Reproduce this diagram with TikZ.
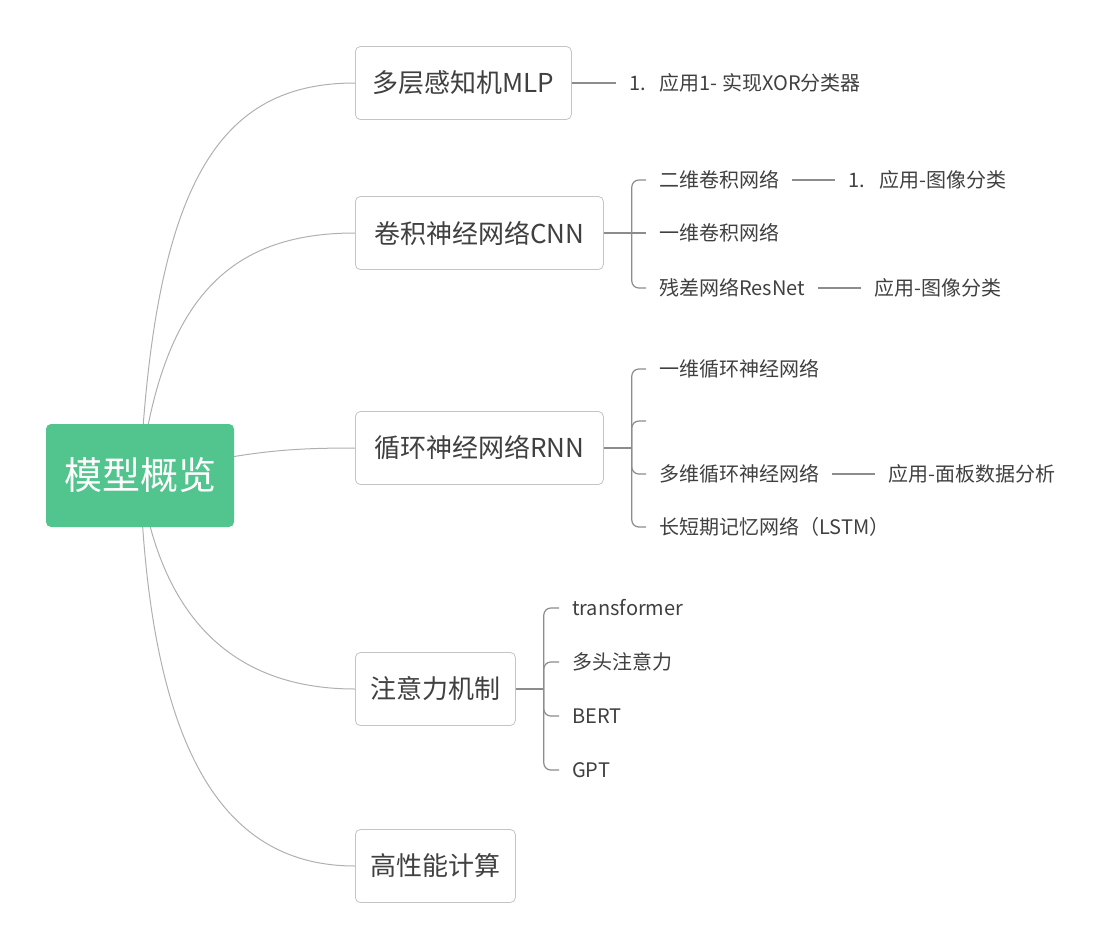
\documentclass[tikz,border=0pt]{standalone}
\usepackage{fontspec}
\setmainfont{Noto Sans CJK SC}
\usetikzlibrary{positioning,backgrounds}
\definecolor{rootgreen}{HTML}{52C48D}
\definecolor{txtgray}{HTML}{404040}
\definecolor{boxgray}{HTML}{C4C4C4}
\definecolor{curvegray}{HTML}{B0B0B0}
\definecolor{branchgray}{HTML}{8C8C8C}
\tikzstyle{root} = [rectangle, rounded corners=5pt, fill=rootgreen,
    text=white, minimum width=188pt, minimum height=103pt,
    font=\fontsize{38}{40}\selectfont]
\tikzstyle{topic} = [draw=boxgray, line width=0.8pt, rectangle,
    rounded corners=5pt, fill=white, text=txtgray, minimum height=73pt,
    anchor=west, font=\fontsize{26}{28}\selectfont]
\tikzstyle{leaf} = [inner xsep=13pt, inner ysep=2pt, text=txtgray,
    font=\fontsize{20}{22}\selectfont]
\tikzstyle{curve} = [draw=curvegray, line width=1pt]
\tikzstyle{branch} = [draw=branchgray, line width=1.2pt, rounded corners=7pt]

\begin{document}
\begin{tikzpicture}[x=1pt, y=-1pt, node distance=43pt]
    \useasboundingbox (0,0) rectangle (1113,948);
    % We start by placing the root and the main topics
    \node [root] (root) at (140,475.5) {模型概览};
    \node [topic, minimum width=216pt] (mlp) at (355,83) {多层感知机MLP};
    \node [topic, minimum width=248pt] (cnn) at (355,233) {卷积神经网络CNN};
    \node [topic, minimum width=248pt] (rnn) at (355,448) {循环神经网络RNN};
    \node [topic, minimum width=160pt] (attn) at (355,689) {注意力机制};
    \node [topic, minimum width=160pt] (hpc) at (355,866) {高性能计算};

    % The curves leave the root from behind it
    \begin{pgfonlayer}{background}
    \draw [curve] (root.center) .. controls (155,180) and (220,83) .. (mlp.west);
    \draw [curve] (root.center) .. controls (162,300) and (228,233) .. (cnn.west);
    \draw [curve] (root.center) .. controls (245,452) and (280,448) .. (rnn.west);
    \draw [curve] (root.center) .. controls (160,620) and (235,689) .. (attn.west);
    \draw [curve] (root.center) .. controls (150,760) and (228,866) .. (hpc.west);
    \end{pgfonlayer}

    % MLP
    \node [leaf, right=44pt of mlp] (xor) {1.\hspace{14pt}应用1- 实现XOR分类器};
    \draw [branch] (mlp) -- (xor);

    % CNN: the leaves hang on a bracket
    \node [leaf, anchor=west] (conv2) at (646,180) {二维卷积网络};
    \node [leaf, anchor=west] (conv1) at (646,233) {一维卷积网络};
    \node [leaf, anchor=west] (resnet) at (646,288) {残差网络ResNet};
    \node [leaf, right=of conv2] (img1) {1.\hspace{14pt}应用-图像分类};
    \node [leaf, right=of resnet] (img2) {应用-图像分类};
    \draw [branch] (cnn.east) -- ++(28,0) coordinate (cnnb) -- (conv1.west);
    \draw [branch] (cnnb) |- (conv2.west);
    \draw [branch] (cnnb) |- (resnet.west);
    \draw [branch] (conv2) -- (img1);
    \draw [branch] (resnet) -- (img2);

    % RNN (the second leaf is left empty)
    \node [leaf, anchor=west] (rnn1) at (646,369) {一维循环神经网络};
    \coordinate (rnn2) at (646,421);
    \node [leaf, anchor=west] (rnnm) at (646,474) {多维循环神经网络};
    \node [leaf, anchor=west] (lstm) at (646,527) {长短期记忆网络（LSTM）};
    \node [leaf, right=of rnnm] (panel) {应用-面板数据分析};
    \draw [branch] (rnn.east) -- ++(28,0) coordinate (rnnb);
    \foreach \c in {rnn1,rnnm,lstm}
        \draw [branch] (rnnb) |- (\c.west);
    \draw [branch] (rnnb) |- (rnn2);
    \draw [branch] (rnnm) -- (panel);

    % Attention
    \node [leaf, anchor=west] (trans) at (559,608) {transformer};
    \node [leaf, anchor=west] (mhead) at (559,662) {多头注意力};
    \node [leaf, anchor=west] (bert) at (559,716) {BERT};
    \node [leaf, anchor=west] (gpt) at (559,770) {GPT};
    \draw [branch] (attn.east) -- ++(28,0) coordinate (attnb);
    \foreach \c in {trans,mhead,bert,gpt}
        \draw [branch] (attnb) |- (\c.west);
\end{tikzpicture}
\end{document}
